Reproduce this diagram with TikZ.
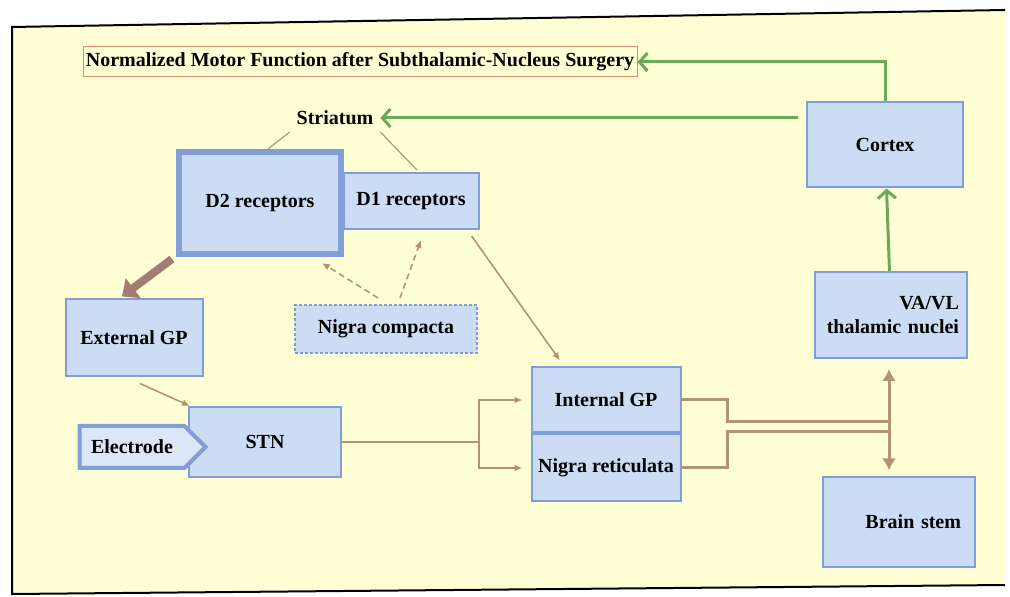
\documentclass[tikz,border=0pt]{standalone}
\usepackage{fontspec}
\setmainfont{Liberation Serif}
\usetikzlibrary{arrows.meta,shapes.symbols}

\definecolor{bgyellow}{HTML}{FFFFD6}
\definecolor{boxfill}{HTML}{CBDCF4}
\definecolor{boxline}{HTML}{819FD6}
\definecolor{tanline}{HTML}{B49470}
\definecolor{mauve}{HTML}{A47C72}
\definecolor{grn}{HTML}{6CA85A}
\definecolor{titleline}{HTML}{D88C70}

\begin{document}
\begin{tikzpicture}[x=0.5pt,y=-0.5pt,
    every node/.style={font=\fontsize{10}{12}\selectfont\bfseries},
    box/.style={draw=boxline,fill=boxfill,line width=1pt,inner sep=2pt},
    greenarr/.style={draw=grn,line width=1.5pt,-{Straight Barb[length=4pt,width=9pt]}},
    tanarr/.style={draw=tanline,line width=0.8pt,-{Latex[length=4pt,width=3.5pt]}},
    tanthin/.style={draw=tanline,line width=0.6pt},
    tanthick/.style={draw=tanline,line width=1.5pt}]
        \useasboundingbox (0,0) rectangle (1010,597);
        % frame
        \fill[bgyellow] (12,27) -- (1005,10) -- (1005,585) -- (12,594) -- cycle;
        \draw[line width=1pt] (1005,10) -- (12,27) -- (12,594) -- (1005,585);

        \node[draw=titleline,line width=0.5pt,minimum width=277pt,minimum height=15pt,inner sep=1pt] (title) at (360,62) {Normalized Motor Function after Subthalamic-Nucleus Surgery};
        \node (striatum) at (335,118) {Striatum};
        \node[box,minimum width=78pt,minimum height=42.5pt] (cortex) at (885,145) {Cortex};
        \node[box,minimum width=76pt,minimum height=43pt,text width=68pt,align=right] (vavl) at (891,315) {VA/VL\\thalamic nuclei};
        \node[box,line width=3pt,minimum width=81pt,minimum height=51pt] (d2) at (260,203) {D2 receptors};
        \node[box,minimum width=67.5pt,minimum height=28pt] (d1) at (411,201) {D1 receptors};
        \node[box,dash pattern=on 1.5pt off 1pt,minimum width=91pt,minimum height=24pt] (compacta) at (386,329) {Nigra compacta};
        \node[box,minimum width=68.5pt,minimum height=38.5pt] (extgp) at (134,338) {External GP};
        \node[box,minimum width=76pt,minimum height=35pt] (stn) at (265,442) {STN};
        \node[box,line width=2pt,fill=boxfill!70,signal,signal to=east,minimum width=63pt,minimum height=21pt] (electrode) at (132,447) {Electrode};
        \node[box,minimum width=74.5pt,minimum height=32.5pt] (intgp) at (606,400) {Internal GP};
        \node[box,minimum width=74.5pt,minimum height=33.5pt,anchor=north] (nigret) at (intgp.south) {Nigra reticulata};
        \node[box,minimum width=76pt,minimum height=44.5pt,text width=62pt,align=right] (brain) at (899,522) {Brain stem};

        \coordinate (split) at (479,442);
        \coordinate (hubtop) at (889,422);
        \coordinate (hubbot) at (889,432);

        % green paths
        \draw[greenarr] (cortex.north) |- (title.east);
        \draw[greenarr] ([xshift=-4pt]cortex.west |- striatum.east) -- (striatum.east);
        \draw[greenarr] (vavl) -- (cortex);

        % striatum
        \draw[tanthin] (striatum.south west) -- ([xshift=4pt]d2.north);
        \draw[tanthin] (striatum.south east) -- ([xshift=3pt,yshift=1pt]d1.north);
        \draw[tanarr,densely dashed] ([xshift=-4pt,yshift=3pt]compacta.north) -- ([xshift=-11pt,yshift=-3pt]d2.south east);
        \draw[tanarr,densely dashed] ([xshift=7pt,yshift=3pt]compacta.north) -- ([xshift=5pt,yshift=-5pt]d1.south);
        \draw[draw=mauve,line width=4pt,-{Triangle[length=7pt,width=12pt]}] ([xshift=-2pt,yshift=-1pt]d2.south west) -- ([xshift=-6pt,yshift=1pt]extgp.north);
        \draw[tanarr] ([xshift=3pt,yshift=-3pt]extgp.south) -- ([xshift=1pt]stn.north west);
        \draw[tanarr] ([xshift=-4pt,yshift=-3pt]d1.south east) -- ([xshift=-23pt,yshift=3pt]intgp.north);

        % stn outputs
        \draw[tanthin] (stn.east) -- (split);
        \draw[tanarr] (split) |- ([xshift=-4pt]intgp.west);
        \draw[tanarr] (split) |- ([xshift=-4pt]nigret.west);

        % pallidal outputs
        \draw[tanthick] (intgp.east) -- ++(46,0) |- (hubtop);
        \draw[tanthick] (nigret.east) -- ++(46,0) |- (hubbot);
        \draw[tanthick,shorten <=5pt,shorten >=3pt,{Latex[length=6pt,width=7pt]}-{Latex[length=6pt,width=7pt]}] (hubtop |- vavl.south) -- (hubtop |- brain.north);
\end{tikzpicture}
\end{document}
